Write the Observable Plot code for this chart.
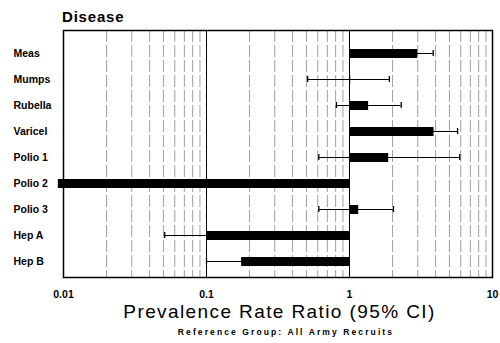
<!DOCTYPE html>
<html>
<head>
<meta charset="utf-8">
<script src="https://cdn.jsdelivr.net/npm/d3@7"></script>
<script src="https://cdn.jsdelivr.net/npm/@observablehq/plot@0.6"></script>
<style>
  html, body { margin: 0; padding: 0; background: #fff; }
  #wrap { position: relative; width: 500px; height: 343px; font-family: "Liberation Sans", Arial, sans-serif; color: #000; }
  #title { position: absolute; left: 62px; top: 9px; font-size: 15px; line-height: 1; font-weight: bold; letter-spacing: 0.8px; }
  #xlabel { position: absolute; left: 0; width: 559px; text-align: center; top: 302px; font-size: 19px; line-height: 1; letter-spacing: 1.4px; }
  #caption { position: absolute; left: 0; width: 572px; text-align: center; top: 328px; font-size: 8.5px; line-height: 1; font-weight: bold; letter-spacing: 2.1px; }
  svg { font-family: "Liberation Sans", Arial, sans-serif; }
</style>
</head>
<body>
<div id="wrap">
  <div id="title">Disease</div>
  <div id="chart"></div>
  <div id="xlabel">Prevalence Rate Ratio (95% CI)</div>
  <div id="caption">Reference Group: All Army Recruits</div>
</div>
<script>
const diseases = ["Meas", "Mumps", "Rubella", "Varicel", "Polio 1", "Polio 2", "Polio 3", "Hep A", "Hep B"];
const ratio    = [3.0, 1.02, 1.36, 3.9, 1.88, 0.0092, 1.16, 0.1, 0.176];
const lower    = [2.3, 0.51, 0.81, 3.0, 0.61, null, 0.61, 0.051, 0.1];
const upper    = [3.85, 1.9, 2.3, 5.7, 5.9, null, 2.03, 0.9, 0.9];
const xTicks   = [0.01, 0.1, 1, 10];
const minorGrid = [2,3,4,5,6,7,8,9].flatMap(m => [0.01 * m, 0.1 * m, 1 * m]);

const rows = diseases.map((d, i) => ({disease: d, ratio: ratio[i], lower: lower[i], upper: upper[i]}));
const ciRows = rows.filter(r => r.lower != null);
const caps = ciRows.flatMap(r => [{disease: r.disease, x: r.lower}, {disease: r.disease, x: r.upper}]);

const chart = Plot.plot({
  width: 500,
  height: 343,
  marginTop: 30,
  marginBottom: 66,
  marginLeft: 63,
  marginRight: 8,
  insetTop: 22,
  insetBottom: 16,
  style: {fontFamily: "Liberation Sans, Arial, sans-serif", background: "#fff", color: "#000"},
  x: {type: "log", domain: [0.01, 10]},
  y: {type: "point", domain: diseases, padding: 0},
  marks: [
    Plot.ruleX(minorGrid, {x: d => d, stroke: "#888", strokeWidth: 0.8, strokeDasharray: "12,3"}),
    Plot.ruleX([0.1, 1], {x: d => d, stroke: "#000", strokeWidth: 1}),
    Plot.ruleY(ciRows, {y: "disease", x1: "lower", x2: "upper", stroke: "#000", strokeWidth: 1}),
    Plot.ruleX(caps, {x: "x", y1: "disease", y2: "disease", stroke: "#000", strokeWidth: 1.3, insetTop: -3, insetBottom: -3}),
    Plot.ruleY(rows, {y: "disease", x1: 1, x2: "ratio", stroke: "#000", strokeWidth: 9}),
    Plot.frame({stroke: "#000", strokeWidth: 1.5}),
    Plot.axisX({ticks: xTicks, tickFormat: d => String(d), tickSize: 0, tickPadding: 13, fontSize: 10.5, fontWeight: "bold", letterSpacing: 0.4, label: null}),
    Plot.axisY({tickSize: 0, tickPadding: 50, textAnchor: "start", fontSize: 10.5, fontWeight: "bold", letterSpacing: 1.3, label: null})
  ]
});
document.getElementById("chart").appendChild(chart);
</script>
</body>
</html>
